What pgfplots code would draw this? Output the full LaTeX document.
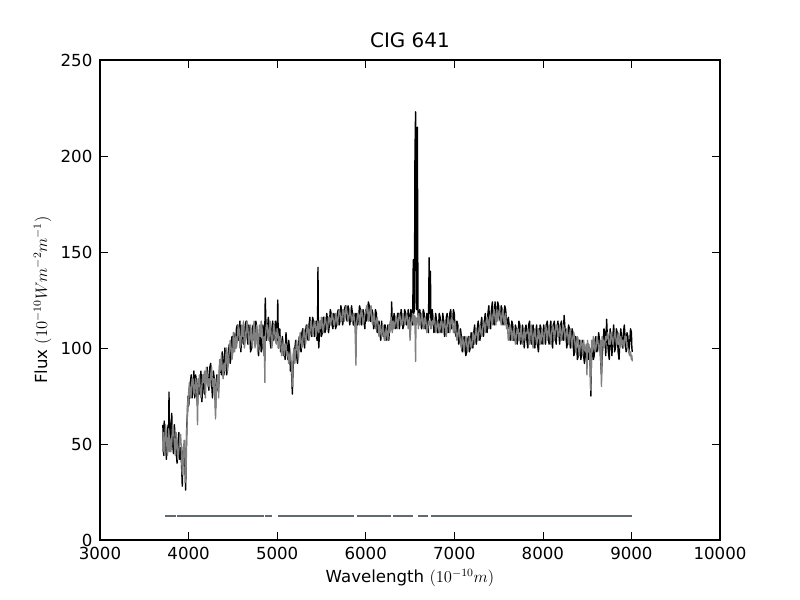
\documentclass[border=0pt]{standalone}
\usepackage{fontspec}
\setmainfont{DejaVu Sans}
\usepackage{pgfplots}
\usepackage{pgfplotstable}
\pgfplotsset{compat=1.18}
\definecolor{maskc}{HTML}{5F6B70}
\pgfplotstableread{
x obs mod
3710 60 46
3715 48 56
3720 44 52
3725 62 48
3730 58 44
3740 50 60
3750 42 55
3760 56 44
3770 60 48
3775 50 58
3779 77 56
3785 52 46
3790 47 53
3800 58 46
3810 66 50
3820 50 60
3830 45 58
3840 60 50
3850 52 44
3860 46 56
3870 40 50
3880 50 42
3890 56 47
3900 42 52
3910 48 55
3920 40 46
3929 28 34
3940 48 42
3950 50 52
3958 40 46
3967 26 30
3974 48 42
3980 60 55
3988 66 72
3995 75 70
4002 70 78
4010 78 82
4020 82 74
4030 86 76
4040 74 84
4050 80 84
4060 88 76
4070 74 78
4080 86 84
4090 82 80
4095 74 76
4101 70 60
4108 80 84
4115 84 80
4122 76 86
4130 83 78
4140 88 74
4150 72 80
4160 80 86
4170 86 82
4180 76 88
4190 80 74
4200 86 90
4210 90 86
4220 82 80
4230 78 84
4240 90 80
4250 92 86
4260 82 90
4270 74 80
4280 88 84
4290 84 76
4297 78 84
4304 68 63
4312 80 76
4320 86 82
4330 78 86
4340 80 74
4350 90 94
4360 92 88
4370 86 96
4380 98 90
4390 92 84
4400 86 92
4410 100 88
4420 94 96
4430 86 100
4440 90 88
4450 98 94
4460 102 98
4470 92 104
4480 96 100
4490 106 94
4500 104 98
4505 98 108
4510 108 104
4520 102 98
4530 100 106
4540 110 100
4550 112 104
4560 104 112
4570 106 110
4580 114 100
4590 98 102
4600 106 112
4610 110 106
4620 102 114
4630 104 100
4640 112 104
4650 114 108
4660 106 114
4670 102 110
4680 112 102
4690 108 104
4700 98 112
4710 100 106
4720 110 100
4730 112 108
4740 104 114
4750 104 100
4760 114 106
4770 110 112
4780 102 98
4790 96 104
4800 106 112
4810 108 106
4820 98 114
4830 100 110
4840 112 102
4850 104 96
4856 100 106
4861 110 82
4866 126 104
4878 104 112
4890 108 112
4900 116 104
4910 112 106
4920 104 114
4930 100 108
4940 110 100
4950 114 104
4960 104 112
4970 106 110
4980 114 104
4990 110 102
5000 104 110
5007 125 108
5014 100 106
5020 104 100
5030 110 106
5040 98 104
5050 102 96
5060 106 100
5070 96 104
5080 100 96
5090 94 102
5100 108 102
5110 100 96
5120 94 98
5130 104 92
5140 100 96
5150 88 98
5160 90 92
5166 84 88
5172 76 80
5180 90 96
5190 96 100
5200 100 92
5210 104 98
5220 96 104
5230 92 100
5240 100 94
5250 106 102
5260 100 108
5270 98 104
5280 108 100
5290 110 104
5300 104 110
5310 100 108
5320 108 102
5330 112 106
5340 106 112
5350 104 110
5360 112 104
5370 116 108
5380 108 114
5390 106 112
5400 116 106
5410 114 110
5420 106 114
5430 108 112
5440 114 106
5450 104 110
5456 110 114
5461 142 112
5466 108 110
5470 100 108
5480 110 114
5490 114 110
5500 106 116
5510 108 112
5520 116 108
5530 116 112
5540 108 116
5550 110 114
5560 118 110
5570 114 110
5580 108 116
5590 112 116
5600 120 112
5610 118 114
5620 112 118
5630 110 116
5640 118 112
5650 116 112
5660 110 118
5670 112 116
5680 118 112
5690 120 116
5700 112 120
5710 114 118
5720 122 114
5730 118 114
5740 112 120
5750 116 120
5760 120 114
5770 122 118
5780 116 122
5790 114 118
5800 122 114
5810 120 116
5820 112 120
5830 116 118
5840 122 114
5850 118 114
5860 112 118
5870 112 116
5880 118 110
5890 114 91
5895 110 112
5900 118 114
5910 112 118
5920 116 118
5930 122 112
5940 120 116
5950 112 120
5960 114 118
5970 120 112
5980 116 114
5990 110 118
6000 120 118
6010 114 122
6020 118 122
6030 124 114
6040 122 116
6050 114 120
6060 114 122
6070 120 114
6080 118 112
6090 110 118
6100 112 116
6110 120 110
6120 118 114
6130 108 116
6140 110 112
6150 114 106
6160 108 112
6170 104 108
6180 114 106
6190 108 112
6200 106 110
6210 112 104
6220 112 104
6230 104 110
6240 108 108
6250 112 104
6260 104 112
6270 110 108
6280 114 110
6287 110 116
6293 124 112
6300 112 108
6310 110 114
6320 118 110
6330 116 112
6340 110 116
6350 112 116
6360 118 110
6370 118 114
6380 110 118
6390 114 116
6400 120 112
6410 116 112
6420 110 118
6430 112 116
6440 120 112
6450 118 114
6460 112 118
6470 114 116
6480 120 110
6490 116 112
6495 110 116
6500 112 104
6510 120 112
6520 118 114
6530 112 118
6537 146 116
6543 118 112
6550 120 117
6556 200 116
6563 223 93
6568 180 116
6572 124 112
6576 120 115
6583 215 114
6590 120 116
6595 114 110
6600 112 118
6610 120 112
6620 116 112
6630 110 118
6640 112 116
6650 120 110
6660 118 112
6670 110 116
6680 110 114
6690 118 108
6700 114 110
6708 108 114
6716 147 112
6724 118 114
6731 140 113
6735 116 110
6740 114 110
6750 120 114
6760 116 112
6770 108 116
6780 110 114
6790 118 108
6800 114 110
6810 108 114
6820 108 112
6830 118 108
6840 116 110
6850 108 114
6860 110 114
6870 118 108
6880 114 112
6890 106 114
6900 108 110
6910 116 106
6920 118 112
6930 108 116
6940 110 114
6950 118 108
6960 120 112
6970 110 116
6980 112 114
6990 120 108
7000 118 110
7010 108 114
7020 106 108
7030 114 104
7040 112 106
7050 102 110
7060 104 108
7070 110 102
7080 106 100
7090 98 106
7100 100 104
7110 106 98
7120 104 102
7130 96 106
7140 98 104
7150 104 98
7160 106 100
7170 98 106
7180 100 104
7190 108 100
7200 104 102
7210 100 108
7220 108 106
7230 112 102
7240 104 108
7250 102 110
7260 110 106
7270 114 104
7280 106 110
7290 104 112
7300 112 108
7310 116 106
7320 108 110
7330 106 114
7340 114 112
7350 118 108
7360 110 114
7370 108 116
7380 118 112
7390 122 110
7400 112 116
7410 110 118
7420 120 114
7430 124 112
7440 114 118
7450 112 120
7460 124 116
7470 118 112
7480 116 120
7490 124 114
7500 122 118
7510 116 120
7520 114 116
7530 122 112
7540 120 118
7550 112 120
7560 116 114
7570 122 112
7580 120 118
7590 114 110
7600 110 112
7610 116 104
7620 112 106
7630 104 112
7640 106 110
7650 114 104
7660 112 104
7670 104 110
7680 104 108
7690 112 102
7700 110 106
7710 102 110
7720 106 110
7730 114 104
7740 112 104
7750 102 110
7760 104 108
7770 112 102
7780 108 106
7790 100 110
7800 110 104
7810 112 108
7820 104 108
7830 100 110
7840 112 106
7850 114 102
7860 106 110
7870 102 112
7880 110 104
7890 112 100
7900 104 108
7910 100 110
7920 108 106
7930 112 102
7940 102 104
7950 98 110
7960 106 108
7970 112 102
7980 110 104
7990 102 110
8000 104 108
8010 112 102
8020 108 106
8030 102 112
8040 112 110
8050 114 104
8060 106 108
8070 102 112
8080 110 106
8090 114 102
8100 104 108
8110 100 112
8120 112 110
8130 114 104
8140 106 108
8150 102 112
8160 110 112
8170 114 106
8180 108 106
8190 102 112
8200 112 110
8210 114 104
8220 106 108
8230 104 112
8240 117 110
8250 110 104
8260 108 106
8270 100 110
8280 104 108
8290 112 102
8300 110 106
8310 100 110
8320 102 104
8330 110 100
8340 108 106
8350 96 108
8360 98 104
8370 106 98
8380 104 102
8390 94 106
8400 96 104
8410 104 96
8420 104 100
8430 94 104
8440 100 102
8450 104 96
8460 96 104
8470 92 100
8480 100 98
8490 96 102
8498 92 86
8504 98 104
8510 102 100
8515 94 98
8520 96 102
8530 100 96
8542 75 78
8550 98 104
8560 102 98
8570 94 106
8580 96 104
8590 104 98
8600 106 100
8610 98 106
8620 100 104
8630 108 100
8640 104 98
8650 96 104
8662 86 80
8670 96 106
8680 102 104
8690 110 100
8700 108 102
8710 96 106
8720 115 104
8730 104 108
8740 98 106
8750 94 102
8760 110 102
8770 104 108
8780 96 106
8790 106 102
8800 112 104
8810 98 108
8820 100 108
8830 110 102
8840 108 102
8850 98 108
8860 94 104
8870 104 100
8880 110 106
8890 104 102
8900 100 104
8910 108 100
8920 112 102
8930 104 106
8940 98 106
8950 108 100
8960 106 100
8970 98 98
8980 102 96
8990 110 98
9000 108 94
9005 100 96
9010 98 93
}\spec
\pgfplotstableread{
x y
3734 12.5
3860 12.5
nan nan
3870 12.5
4852 12.5
nan nan
4863 12.5
4942 12.5
nan nan
5010 12.5
5868 12.5
nan nan
5902 12.5
6285 12.5
nan nan
6308 12.5
6534 12.5
nan nan
6590 12.5
6703 12.5
nan nan
6737 12.5
9006 12.5
}\mask
\begin{document}
\begin{tikzpicture}
\path[use as bounding box] (0,0) rectangle (8in,6in);
\begin{axis}[
  at={(1in,0.6in)}, anchor=south west,
  scale only axis, width=6.2in, height=4.8in,
  xmin=3000, xmax=10000, ymin=0, ymax=250,
  xtick={3000,4000,...,10000}, ytick={0,50,...,250},
  scaled ticks=false,
  minor tick num=0,
  tick align=inside, xtick pos=both, ytick pos=both,
  major tick length=5.5pt,
  every tick/.style={black, line width=0.5pt},
  axis line style={line width=1pt},
  /pgf/number format/assume math mode=true,
  /pgf/number format/1000 sep={},
  ticklabel style={font=\fontsize{12}{14}\selectfont},
  xticklabel style={yshift=-2pt},
  yticklabel style={xshift=-2pt},
  title={CIG 641},
  title style={font=\fontsize{14.4}{16}\selectfont, yshift=-1pt},
  xlabel={Wavelength $(10^{-10}m)$},
  ylabel={Flux $(10^{-10}Wm^{-2}m^{-1})$},
  label style={font=\fontsize{12}{14}\selectfont},
  unbounded coords=jump,
  clip=true,
]
\addplot[black, line width=1pt, line join=round] table[x=x, y=obs] {\spec};
\addplot[gray, line width=1pt, line join=round] table[x=x, y=mod] {\spec};
\addplot[maskc, line width=1.5pt] table[x=x, y=y] {\mask};
\end{axis}
\end{tikzpicture}
\end{document}
